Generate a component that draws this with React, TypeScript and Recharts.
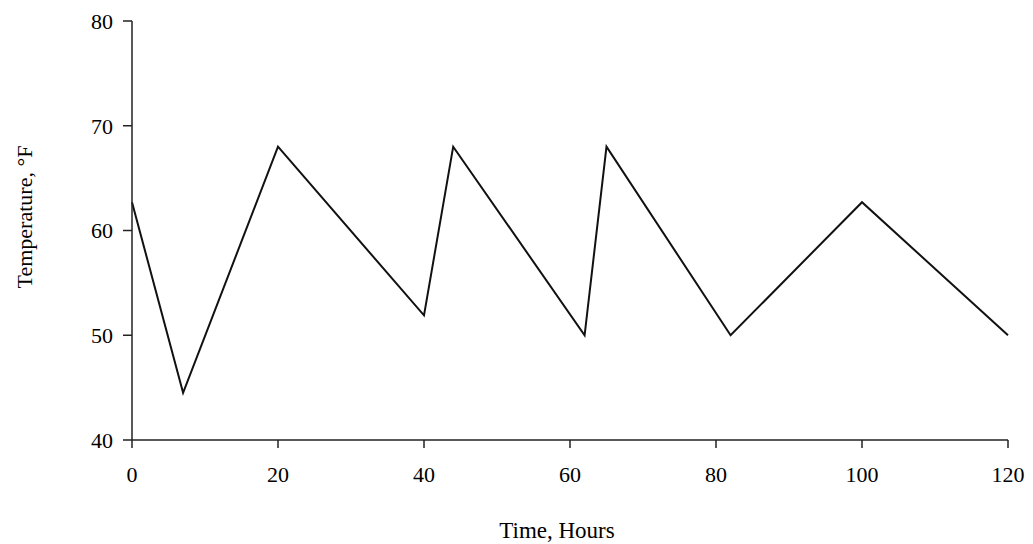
import { LineChart, Line, XAxis, YAxis, Label } from "recharts";

const hours = [0, 7, 20, 40, 44, 62, 65, 82, 100, 120];
const temps = [62.7, 44.5, 68, 51.9, 68, 50, 68, 50, 62.7, 50];
const xTicks = [0, 20, 40, 60, 80, 100, 120];
const yTicks = [40, 50, 60, 70, 80];

const data = hours.map((h, i) => ({ hour: h, temp: temps[i] }));

const font = "'Liberation Serif', 'Times New Roman', serif";
const tickStyle = { fill: "#000", fontSize: 22, fontFamily: font };

export default function App() {
    return (
        <div style={{ position: "absolute", left: 0, top: 0, background: "#fff" }}>
            <LineChart
                width={1033}
                height={544}
                data={data}
                margin={{ top: 21, right: 25, left: 0, bottom: 0 }}
            >
                <XAxis
                    dataKey="hour"
                    type="number"
                    domain={[0, 120]}
                    ticks={xTicks}
                    height={104}
                    tickSize={8}
                    tickMargin={18}
                    stroke="#222"
                    strokeWidth={1.5}
                    tick={tickStyle}
                >
                    <Label
                        content={() => (
                            <text
                                x={557}
                                y={538}
                                textAnchor="middle"
                                style={{ fill: "#000", fontSize: 23, fontFamily: font }}
                            >
                                Time, Hours
                            </text>
                        )}
                    />
                </XAxis>
                <YAxis
                    type="number"
                    domain={[40, 80]}
                    ticks={yTicks}
                    width={132}
                    tickSize={9}
                    tickMargin={10}
                    stroke="#222"
                    strokeWidth={1.5}
                    tick={tickStyle}
                >
                    <Label
                        content={() => (
                            <text
                                x={24}
                                y={217}
                                transform="rotate(-90, 24, 217)"
                                textAnchor="middle"
                                dominantBaseline="central"
                                style={{ fill: "#000", fontSize: 22, fontFamily: font }}
                            >
                                Temperature, °F
                            </text>
                        )}
                    />
                </YAxis>
                <Line
                    dataKey="temp"
                    stroke="#111"
                    strokeWidth={2}
                    dot={false}
                    isAnimationActive={false}
                />
            </LineChart>
        </div>
    );
}
